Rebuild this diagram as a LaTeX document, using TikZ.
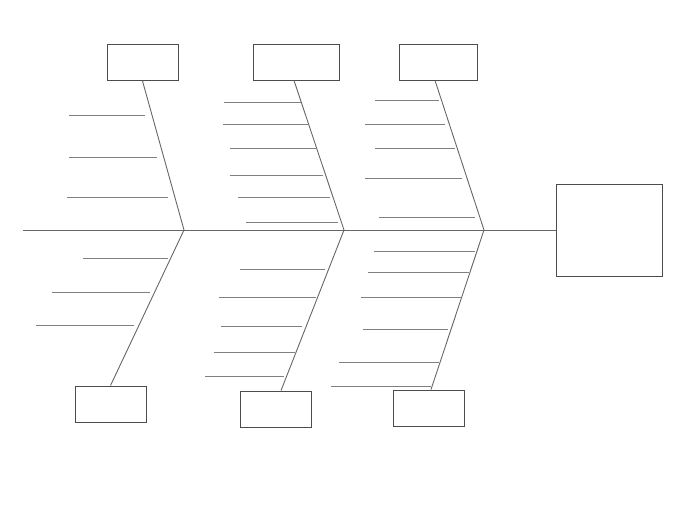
\documentclass[tikz,border=0pt]{standalone}
\begin{document}
\begin{tikzpicture}[x=1pt,y=-1pt,
    cause/.style={draw=black!70,line width=0.9pt,minimum height=36pt,inner sep=0pt},
    bone/.style={draw=black!60,line width=0.9pt},
    rib/.style={draw=black!50,line width=1pt}]
\useasboundingbox (0,0) rectangle (700,505);
            % Boxes
\node[cause,minimum width=71pt] (c1) at (142.5,62.5) {};
\node[cause,minimum width=86pt] (c2) at (296,62) {};
\node[cause,minimum width=78pt] (c3) at (438,62) {};
\node[cause,minimum width=71pt] (c4) at (110.5,404) {};
\node[cause,minimum width=71pt] (c5) at (275.5,409) {};
\node[cause,minimum width=71pt] (c6) at (428.5,408) {};
\node[cause,minimum width=106pt,minimum height=92pt] (effect) at (609,230) {};
%Joints
\coordinate (tail) at (23,230);
\coordinate (j1) at (184,230);
\coordinate (j2) at (344,230);
\coordinate (j3) at (484,230);
%Spine
\draw[bone] (tail) -- (effect.west);
%Bones
\draw[bone] (c1.south) -- (j1);
\draw[bone] ([xshift=-2pt]c2.south) -- (j2);
\draw[bone] ([xshift=-3pt]c3.south) -- (j3);
\draw[bone] (c4.north) -- (j1);
\draw[bone] ([xshift=5.5pt]c5.north) -- (j2);
\draw[bone] ([xshift=2.5pt]c6.north) -- (j3);
%Ribs
\foreach \y/\a/\b in {116/69/145, 157/69/157, 197/67/168,
    103/224/301, 125/223/308, 149/230/316, 175/230/323, 197/238/330, 222/246/338,
    101/375/439, 125/365/445, 149/375/455, 178/365/462, 217/379/475,
    258/83/168, 292/52/150, 325/36/134,
    269/240/325, 297/219/316, 326/221/302, 352/214/295, 376/205/284,
    251/374/475, 272/368/469, 297/361/461, 329/363/448, 362/339/439, 386/331/431}
  \draw[rib] (\a,\y) -- (\b,\y);

          \end{tikzpicture}
\end{document}
